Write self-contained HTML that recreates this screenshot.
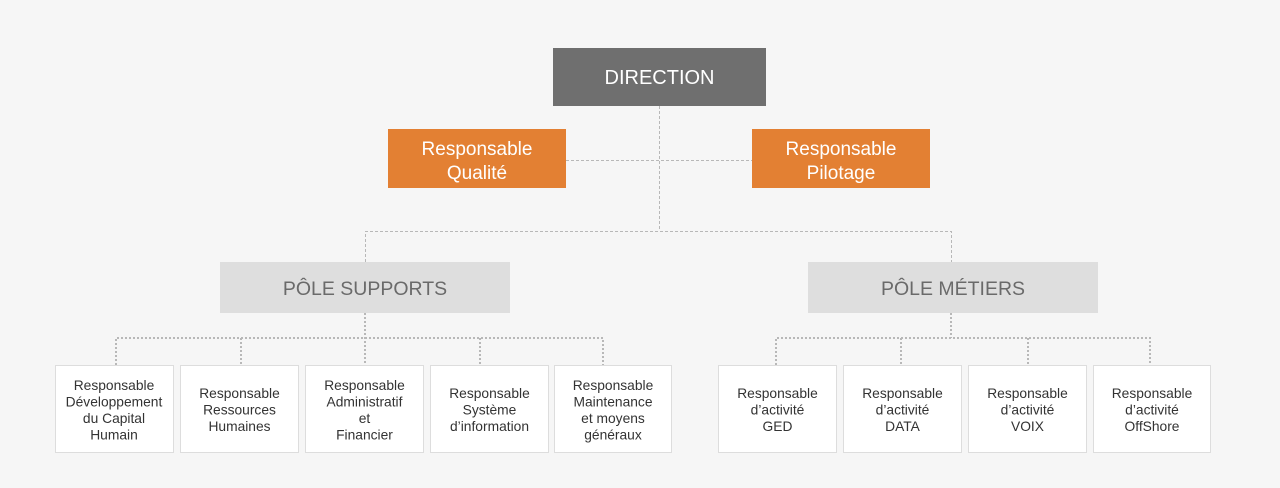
<!DOCTYPE html>
<html><head><meta charset="utf-8"><style>
html,body{margin:0;padding:0;background:#f6f6f6;}
svg{display:block;}
text{font-family:"Liberation Sans",sans-serif;}
</style></head><body>
<svg width="1280" height="488" viewBox="0 0 1280 488" xmlns="http://www.w3.org/2000/svg">
<rect width="1280" height="488" fill="#f6f6f6"/>
<g stroke="#b8b8b8" stroke-width="1" fill="none" stroke-dasharray="3,2">
<line x1="659.5" y1="106" x2="659.5" y2="231"/>
<line x1="566" y1="160.5" x2="752" y2="160.5"/>
<polyline points="365.5,262 365.5,231.5 951.5,231.5 951.5,262"/>
</g>
<g stroke="#b8b8b8" stroke-width="2" fill="none" stroke-dasharray="2,2">
<line x1="365" y1="313" x2="365" y2="365"/>
<polyline points="116,365 116,338 603,338 603,365"/>
<line x1="241" y1="338" x2="241" y2="365"/>
<line x1="480" y1="338" x2="480" y2="365"/>
<line x1="951" y1="313" x2="951" y2="338"/>
<polyline points="776,365 776,338 1150,338 1150,365"/>
<line x1="901" y1="338" x2="901" y2="365"/>
<line x1="1028" y1="338" x2="1028" y2="365"/>
</g>
<rect x="553" y="48" width="213" height="58" fill="#6f6f6f"/>
<text x="659.5" y="84" font-size="20" fill="#fff" text-anchor="middle">DIRECTION</text>
<rect x="388" y="129" width="178" height="59" fill="#e38033"/>
<text x="477" y="155" font-size="19" fill="#fff" text-anchor="middle">Responsable</text>
<text x="477" y="179" font-size="19" fill="#fff" text-anchor="middle">Qualité</text>
<rect x="752" y="129" width="178" height="59" fill="#e38033"/>
<text x="841" y="155" font-size="19" fill="#fff" text-anchor="middle">Responsable</text>
<text x="841" y="179" font-size="19" fill="#fff" text-anchor="middle">Pilotage</text>
<rect x="220" y="262" width="290" height="51" fill="#dedede"/>
<text x="365" y="295" font-size="19.5" fill="#6a6a6a" text-anchor="middle">PÔLE SUPPORTS</text>
<rect x="808" y="262" width="290" height="51" fill="#dedede"/>
<text x="953" y="295" font-size="19.5" fill="#6a6a6a" text-anchor="middle">PÔLE MÉTIERS</text>
<g fill="#fff" stroke="#dddddd" stroke-width="1">
<rect x="55.5" y="365.5" width="118" height="87"/>
<rect x="180.5" y="365.5" width="118" height="87"/>
<rect x="305.5" y="365.5" width="118" height="87"/>
<rect x="430.5" y="365.5" width="118" height="87"/>
<rect x="554.5" y="365.5" width="117" height="87"/>
<rect x="718.5" y="365.5" width="118" height="87"/>
<rect x="843.5" y="365.5" width="118" height="87"/>
<rect x="968.5" y="365.5" width="118" height="87"/>
<rect x="1093.5" y="365.5" width="117" height="87"/>
</g>
<g font-size="13.8" fill="#333" text-anchor="middle">
<text x="114" y="390">Responsable</text><text x="114" y="406.5">Développement</text><text x="114" y="423">du Capital</text><text x="114" y="439.5">Humain</text>
<text x="239.5" y="398">Responsable</text><text x="239.5" y="414.5">Ressources</text><text x="239.5" y="431">Humaines</text>
<text x="364.5" y="390">Responsable</text><text x="364.5" y="406.5">Administratif</text><text x="364.5" y="423">et</text><text x="364.5" y="439.5">Financier</text>
<text x="489.5" y="398">Responsable</text><text x="489.5" y="414.5">Système</text><text x="489.5" y="431">d’information</text>
<text x="613" y="390">Responsable</text><text x="613" y="406.5">Maintenance</text><text x="613" y="423">et moyens</text><text x="613" y="439.5">généraux</text>
<text x="777.5" y="398">Responsable</text><text x="777.5" y="414.5">d’activité</text><text x="777.5" y="431">GED</text>
<text x="902.5" y="398">Responsable</text><text x="902.5" y="414.5">d’activité</text><text x="902.5" y="431">DATA</text>
<text x="1027.5" y="398">Responsable</text><text x="1027.5" y="414.5">d’activité</text><text x="1027.5" y="431">VOIX</text>
<text x="1152" y="398">Responsable</text><text x="1152" y="414.5">d’activité</text><text x="1152" y="431">OffShore</text>
</g>
</svg>
</body></html>
